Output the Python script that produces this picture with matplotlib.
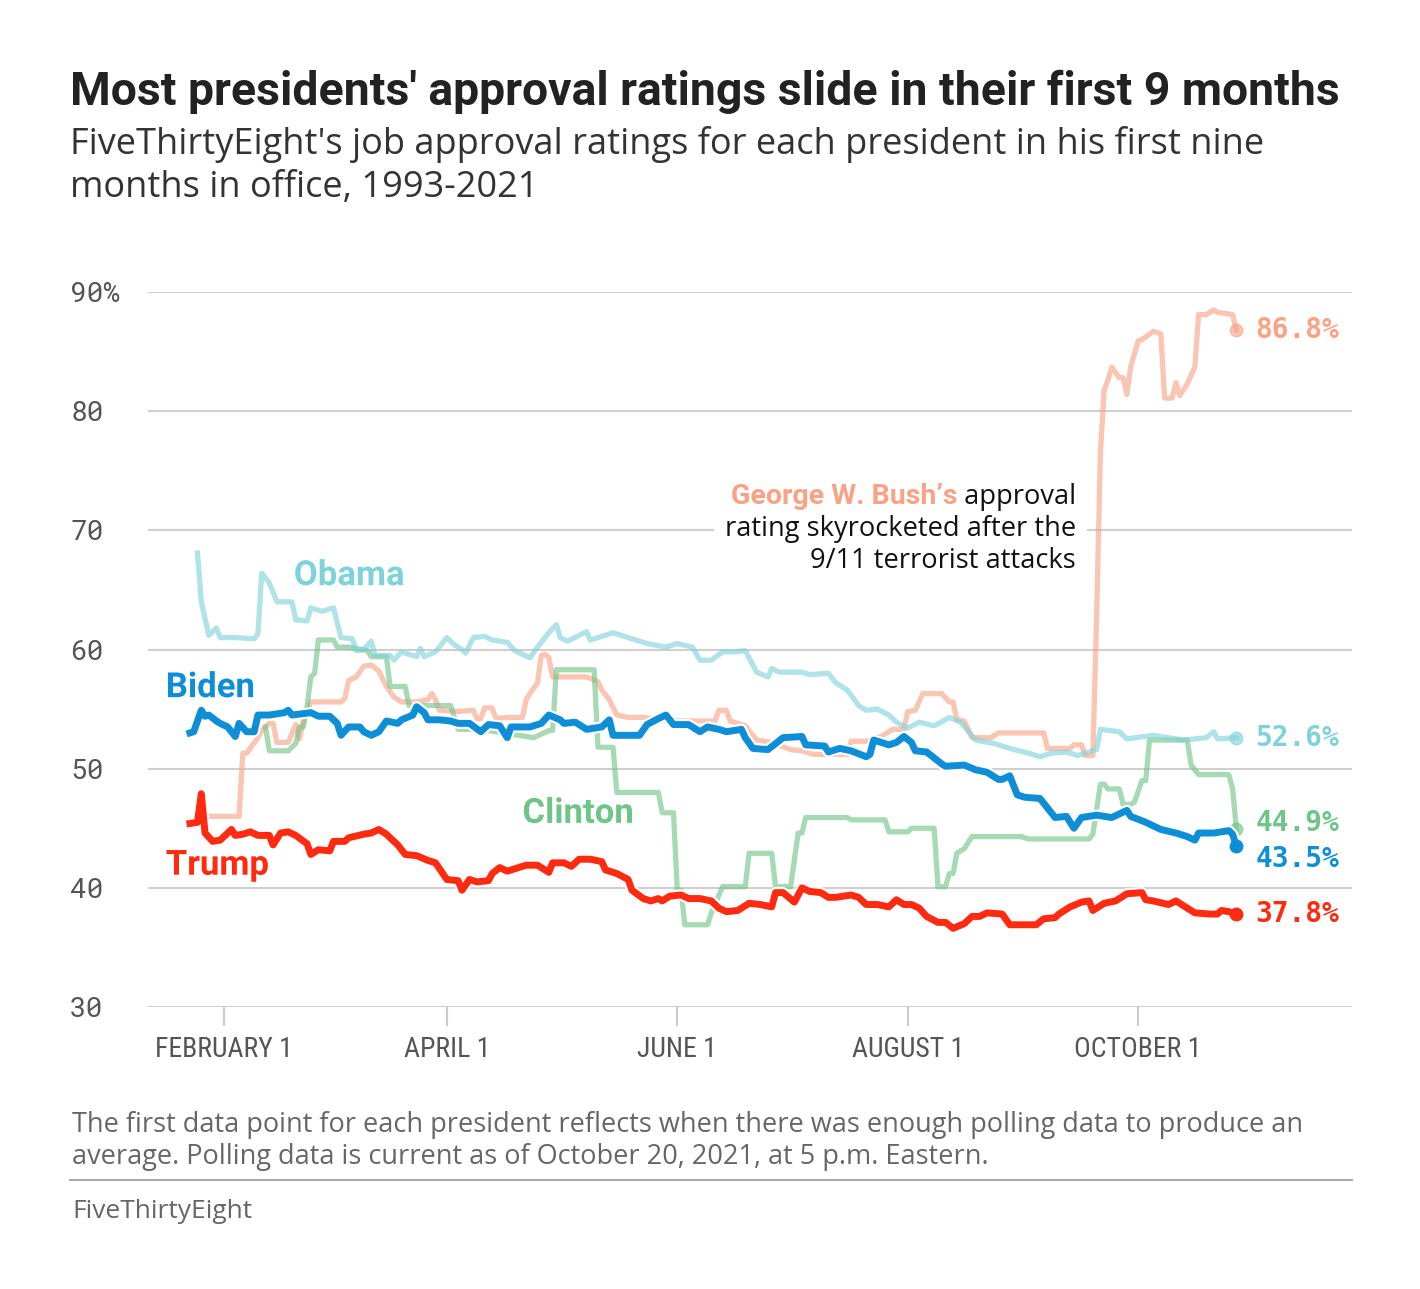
import matplotlib
matplotlib.use("Agg")
import matplotlib.pyplot as plt
import matplotlib.patheffects as pe
from matplotlib.offsetbox import TextArea, HPacker, VPacker, AnnotationBbox

# ==========================================
# Data: days since inauguration (Jan 20) vs. approval (%)
# ==========================================
bush_days = [8, 16, 17, 18, 21, 22, 24, 25, 26, 29, 31, 32, 33, 35, 43, 44, 45, 47, 49, 51,
             53, 55, 57, 59, 63, 66, 67, 68, 69, 74, 78, 79, 80, 81, 83, 84, 87, 91, 92, 93,
             95, 96, 97, 98, 99, 108, 111, 112, 114, 116, 119, 123, 129, 139, 142, 143, 145,
             146, 150, 153, 157, 162, 165, 168, 177, 178, 182, 186, 189, 192, 193, 195, 197,
             202, 204, 205, 206, 208, 210, 215, 217, 229, 230, 236, 237, 239, 240, 242, 243,
             244, 245, 246, 247, 249, 250, 251, 252, 254, 255, 258, 260, 261, 263, 264, 265,
             267, 269, 270, 272, 274, 275, 279, 280]
bush_vals = [46.0, 46.0, 51.3, 51.3, 52.6, 53.2, 53.8, 53.8, 52.2, 52.2, 53.7, 52.5, 54.0, 55.6,
             55.6, 55.9, 57.4, 57.7, 58.6, 58.7, 58.2, 56.9, 56.0, 55.6, 55.6, 55.8, 56.3, 55.8,
             54.9, 54.8, 54.9, 54.2, 54.2, 55.1, 55.1, 54.2, 54.3, 54.3, 55.8, 56.3, 57.2, 59.5,
             59.6, 59.3, 57.7, 57.7, 57.3, 56.6, 55.8, 54.5, 54.3, 54.3, 54.0, 54.0, 54.0, 54.9,
             54.9, 54.0, 53.6, 52.4, 52.2, 51.6, 51.5, 51.2, 51.2, 52.3, 52.3, 52.7, 53.3, 53.3,
             54.8, 54.9, 56.3, 56.3, 55.6, 55.6, 54.1, 54.0, 52.6, 52.6, 53.0, 53.0, 51.7, 51.7,
             52.0, 52.0, 51.1, 51.1, 62.8, 76.5, 81.8, 82.6, 83.7, 82.8, 82.8, 81.4, 83.7, 85.9,
             86.0, 86.7, 86.5, 81.1, 81.1, 82.4, 81.3, 82.3, 83.7, 88.1, 88.1, 88.5, 88.3, 88.1,
             86.8]

clinton_days = [23, 24, 29, 31, 32, 33, 34, 35, 36, 37, 41, 42, 45, 50, 51, 55, 56, 60, 61, 72,
                74, 80, 94, 98, 99, 100, 110, 111, 115, 116, 127, 128, 131, 132, 133, 134, 140,
                141, 144, 150, 151, 157, 158, 162, 164, 165, 166, 177, 178, 187, 188, 193, 194,
                200, 201, 203, 204, 205, 206, 208, 210, 223, 225, 241, 242, 244, 245, 246, 249,
                250, 252, 253, 255, 256, 257, 267, 268, 270, 278, 279, 280]
clinton_vals = [53.5, 51.5, 51.5, 52.1, 53.5, 53.5, 55.2, 57.7, 58.0, 60.8, 60.8, 60.2, 60.2,
                59.9, 59.4, 59.4, 56.9, 56.9, 55.3, 55.3, 53.3, 53.3, 52.6, 53.2, 53.2, 58.3,
                58.3, 51.8, 51.8, 48.0, 48.0, 46.3, 46.3, 39.8, 39.8, 36.9, 36.9, 37.9, 40.1,
                40.1, 42.9, 42.9, 40.1, 40.1, 44.6, 44.6, 45.9, 45.9, 45.7, 45.7, 44.7, 44.7,
                45.0, 45.0, 40.1, 40.1, 41.2, 41.2, 42.9, 43.3, 44.3, 44.3, 44.1, 44.1, 44.5,
                48.7, 48.7, 48.3, 48.3, 47.0, 47.0, 47.2, 49.0, 49.0, 52.4, 52.4, 50.3, 49.5,
                49.5, 48.3, 44.9]

obama_days = [5, 6, 8, 10, 11, 15, 20, 21, 22, 24, 26, 30, 31, 34, 35, 38, 41, 42, 43, 46, 47,
              49, 51, 52, 56, 57, 59, 63, 64, 65, 68, 71, 73, 75, 76, 78, 81, 83, 87, 89, 93,
              95, 98, 100, 101, 103, 108, 109, 115, 120, 124, 129, 132, 136, 138, 141, 144,
              147, 150, 152, 153, 156, 157, 159, 165, 167, 172, 174, 177, 180, 182, 185, 188,
              190, 193, 196, 200, 204, 207, 211, 216, 220, 225, 228, 231, 235, 238, 241, 243,
              244, 249, 251, 258, 266, 272, 274, 275, 280]
obama_vals = [68.1, 64.0, 61.2, 61.8, 61.0, 61.0, 60.9, 61.3, 66.4, 65.6, 64.0, 64.0, 62.5,
              62.4, 63.5, 63.2, 63.5, 62.2, 61.0, 60.9, 59.9, 60.0, 60.7, 59.5, 59.5, 59.1,
              59.8, 59.4, 60.1, 59.4, 59.8, 61.0, 60.4, 60.0, 59.7, 61.0, 61.1, 60.8, 60.6,
              59.9, 59.3, 60.2, 61.4, 62.1, 61.0, 60.7, 61.5, 60.8, 61.4, 60.9, 60.5, 60.2,
              60.5, 60.2, 59.1, 59.1, 59.8, 59.8, 59.9, 58.7, 58.1, 57.7, 58.4, 58.1, 58.1,
              57.9, 58.0, 57.2, 56.6, 55.3, 54.9, 55.0, 54.5, 53.9, 53.4, 53.9, 53.6, 54.3,
              53.9, 52.4, 52.1, 51.7, 51.3, 51.0, 51.3, 51.4, 51.1, 51.4, 51.6, 53.3, 53.1,
              52.5, 52.8, 52.4, 52.6, 53.1, 52.5, 52.6]

biden_days = [3, 4, 6, 7, 8, 10, 11, 13, 14, 15, 16, 18, 20, 21, 24, 28, 29, 30, 35, 37, 40, 42,
              43, 45, 48, 49, 51, 53, 55, 58, 59, 62, 63, 65, 66, 69, 72, 74, 77, 80, 82, 85,
              87, 88, 93, 96, 98, 101, 102, 105, 108, 112, 114, 115, 119, 122, 124, 127, 129,
              131, 135, 138, 140, 143, 145, 149, 150, 152, 156, 158, 160, 165, 166, 171, 172,
              175, 178, 182, 183, 184, 186, 188, 190, 192, 194, 195, 198, 202, 203, 208, 211,
              214, 217, 218, 220, 222, 224, 228, 230, 232, 235, 237, 239, 243, 247, 251, 252,
              256, 260, 264, 267, 269, 270, 274, 278, 279, 280]
biden_vals = [53.0, 53.1, 54.9, 54.4, 54.5, 54.0, 53.8, 53.5, 53.1, 52.7, 53.8, 53.1, 53.1,
              54.5, 54.5, 54.7, 54.9, 54.5, 54.7, 54.4, 54.4, 53.8, 52.8, 53.5, 53.5, 53.1,
              52.8, 53.1, 54.0, 53.8, 54.1, 54.5, 55.2, 54.7, 54.1, 54.1, 54.0, 53.8, 53.8,
              53.1, 53.7, 53.6, 52.6, 53.5, 53.5, 53.8, 54.5, 54.1, 53.8, 53.9, 53.3, 53.5,
              54.1, 52.8, 52.8, 52.8, 53.7, 54.2, 54.5, 53.7, 53.7, 53.1, 53.5, 53.3, 53.1,
              53.3, 52.6, 51.7, 51.6, 52.1, 52.6, 52.7, 52.0, 51.9, 51.4, 51.7, 51.5, 51.0,
              51.2, 52.4, 52.2, 52.0, 52.2, 52.7, 52.2, 51.5, 51.4, 50.4, 50.2, 50.3, 49.9,
              49.7, 49.1, 49.1, 49.4, 47.8, 47.6, 47.5, 46.7, 45.9, 46.0, 45.0, 45.9, 46.1,
              45.9, 46.5, 46.0, 45.5, 44.9, 44.6, 44.3, 44.0, 44.6, 44.6, 44.8, 44.5, 43.5]

trump_days = [3, 5, 6, 7, 9, 11, 14, 15, 17, 19, 21, 24, 25, 27, 29, 31, 34, 35, 37, 40, 41, 44,
              45, 49, 51, 53, 55, 58, 60, 63, 66, 68, 71, 74, 75, 77, 79, 82, 83, 85, 87, 89,
              92, 95, 98, 99, 102, 104, 106, 109, 112, 113, 116, 119, 120, 123, 125, 127, 128,
              130, 133, 135, 138, 141, 143, 145, 148, 151, 154, 157, 158, 160, 163, 165, 167,
              170, 172, 174, 178, 180, 182, 185, 188, 190, 192, 194, 196, 198, 201, 203, 205,
              208, 210, 212, 214, 218, 220, 224, 227, 229, 232, 233, 236, 239, 241, 242, 245,
              248, 251, 255, 256, 258, 262, 264, 266, 269, 273, 275, 276, 278, 280]
trump_vals = [45.4, 45.5, 47.9, 44.6, 43.9, 44.0, 44.9, 44.4, 44.5, 44.7, 44.4, 44.4, 43.6,
              44.6, 44.7, 44.4, 43.7, 42.8, 43.2, 43.1, 43.9, 43.9, 44.2, 44.5, 44.6, 44.9,
              44.5, 43.6, 42.8, 42.7, 42.3, 42.1, 40.7, 40.6, 39.8, 40.7, 40.5, 40.6, 41.2,
              41.7, 41.4, 41.6, 41.9, 41.9, 41.3, 42.1, 42.1, 41.8, 42.4, 42.4, 42.2, 41.5,
              41.2, 40.7, 39.8, 39.1, 38.9, 39.1, 38.9, 39.3, 39.4, 39.1, 39.1, 38.9, 38.3,
              38.0, 38.1, 38.7, 38.6, 38.4, 39.6, 39.6, 38.8, 40.0, 39.7, 39.6, 39.2, 39.2,
              39.4, 39.2, 38.6, 38.6, 38.4, 39.0, 38.6, 38.6, 38.3, 37.6, 37.1, 37.1, 36.6,
              37.0, 37.6, 37.6, 37.9, 37.8, 36.9, 36.9, 36.9, 37.4, 37.5, 37.8, 38.4, 38.8,
              38.9, 38.1, 38.7, 38.9, 39.5, 39.6, 39.0, 38.9, 38.6, 38.9, 38.5, 37.9, 37.8,
              37.8, 38.1, 38.0, 37.8]

month_ticks = [12, 71, 132, 193, 254]
month_labels = ['FEBRUARY 1', 'APRIL 1', 'JUNE 1', 'AUGUST 1', 'OCTOBER 1']
y_ticks = [30, 40, 50, 60, 70, 80, 90]
y_labels = ['30', '40', '50', '60', '70', '80', '90%']

title = "Most presidents' approval ratings slide in their first 9 months"
subtitle = ["FiveThirtyEight's job approval ratings for each president in his first nine",
            "months in office, 1993-2021"]
footnote = ["The first data point for each president reflects when there was enough polling data to produce an",
            "average. Polling data is current as of October 20, 2021, at 5 p.m. Eastern."]

# ==========================================
# Styles
# ==========================================
colors = {
    'Bush': '#f9a286',
    'Clinton': '#6fc487',
    'Obama': '#7fd2da',
    'Biden': '#0e8ed6',
    'Trump': '#ff2a10',
}
# (name, days, values, name-label position, end label offset in points)
series = [
    ('Bush', bush_days, bush_vals, None, 0),
    ('Clinton', clinton_days, clinton_vals, (91, 45.45), 4.5),
    ('Obama', obama_days, obama_vals, (30.5, 65.4), 0),
    ('Biden', biden_days, biden_vals, (-3.4, 56.0), -9.5),
    ('Trump', trump_days, trump_vals, (-3.4, 41.1), 0),
]

W, H = 1420, 1289
fig = plt.figure(figsize=(W / 100, H / 100), dpi=100)
ax = fig.add_axes([148 / W, 1 - 1007 / H, 1204 / W, 715 / H])

BOLD = ['Roboto', 'DejaVu Sans']
TEXT = ['Open Sans', 'DejaVu Sans']
COND = ['Roboto Condensed', 'DejaVu Sans']
MONO = ['DejaVu Sans Mono']

for name, days, vals, lab_pos, dy in series:
    c = colors[name]
    if name in ('Biden', 'Trump'):
        ax.plot(days, vals, color=c, lw=5.0, solid_joinstyle='round', zorder=5,
                path_effects=[pe.Stroke(linewidth=8, foreground='white'), pe.Normal()])
        ax.plot(days[-1], vals[-1], 'o', color=c, ms=9, zorder=6)
    else:
        ax.plot(days, vals, color=c, lw=3.8, alpha=0.62, solid_joinstyle='round', zorder=3)
        ax.plot(days[-1], vals[-1], 'o', color=c, ms=9, alpha=0.62, zorder=3)
    ax.annotate(f"{vals[-1]:.1f}%", (days[-1], vals[-1]), xytext=(13.5, dy),
                textcoords='offset points', ha='left', va='center', color=c,
                fontsize=20, fontweight='bold', family=MONO, zorder=7)
    if lab_pos is not None:
        ax.text(lab_pos[0], lab_pos[1], name, color=c, fontsize=25, fontweight='bold',
                family=BOLD, ha='left', va='baseline', zorder=8,
                path_effects=[pe.Stroke(linewidth=5, foreground='white'), pe.Normal()])

# annotation for the Bush spike (white box sits over the grid, under the lines)
note_props = dict(color='#111111', fontsize=19.6, family=TEXT)
line1 = HPacker(children=[
    TextArea("George W. Bush\u2019s", textprops=dict(color=colors['Bush'], fontsize=20.5,
                                                     fontweight='bold', family=BOLD)),
    TextArea(" approval", textprops=note_props),
], align='baseline', pad=0, sep=0)
note = VPacker(children=[
    line1,
    TextArea("rating skyrocketed after the", textprops=note_props),
    TextArea("9/11 terrorist attacks", textprops=note_props),
], align='right', pad=0, sep=3)
ab = AnnotationBbox(note, (237.6, 70.1), box_alignment=(1, 0.5), frameon=True, pad=0.8,
                    bboxprops=dict(facecolor='white', edgecolor='none'), zorder=2)
ax.add_artist(ab)

ax.set_xlim(-8.1, 310.6)
ax.set_ylim(30, 90)
ax.set_xticks(month_ticks)
ax.set_xticklabels(month_labels, family=COND, fontsize=20, color='#555555')
ax.set_yticks(y_ticks)
ax.set_yticklabels(y_labels, family=['Roboto Mono', 'DejaVu Sans Mono'], fontsize=20,
                   color='#555555')
for lab in ax.get_yticklabels():
    lab.set_horizontalalignment('left')
ax.tick_params(axis='y', length=0, pad=56)
ax.tick_params(axis='x', length=14, width=1.5, color='#cccccc', pad=7)
ax.grid(axis='y', color='#cfcfcf', lw=1.5)
ax.set_axisbelow(True)
for s in ax.spines.values():
    s.set_visible(False)

# titles and notes
fig.text(70 / W, 1 - 105 / H, title, family=BOLD, fontsize=33.4, fontweight='bold',
         color='#222222', va='baseline', ha='left')
for i, line in enumerate(subtitle):
    fig.text(70 / W, 1 - (154 + 43 * i) / H, line, family=TEXT, fontsize=26,
             color='#333333', va='baseline', ha='left')
for i, line in enumerate(footnote):
    fig.text(72 / W, 1 - (1132 + 32 * i) / H, line, family=TEXT, fontsize=19.5,
             color='#666666', va='baseline', ha='left')
fig.add_artist(plt.Line2D([70 / W, 1352 / W], [1 - 1180 / H, 1 - 1180 / H],
                          color='#aaaaaa', lw=1.5))
fig.text(72 / W, 1 - 1218 / H, "FiveThirtyEight", family=TEXT, fontsize=19,
         color='#666666', va='baseline', ha='left')

fig.savefig('out.png', dpi=100, facecolor='white')
